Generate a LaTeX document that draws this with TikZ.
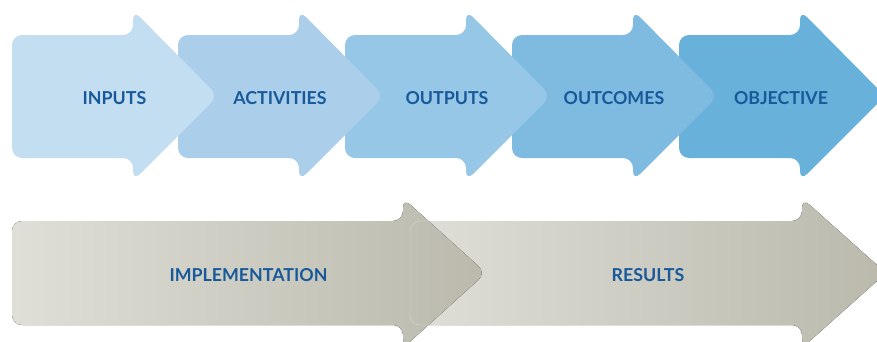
\documentclass[tikz,border=0pt]{standalone}
\usepackage{fontspec}
\setmainfont{Lato}
\definecolor{cA}{HTML}{C4DEF1}
\definecolor{cB}{HTML}{ABCFEA}
\definecolor{cC}{HTML}{96C7E7}
\definecolor{cD}{HTML}{7FBBE1}
\definecolor{cE}{HTML}{68B1DA}
\definecolor{gL}{HTML}{DFDFD8}
\definecolor{gR}{HTML}{BAB9AC}
\definecolor{txtblue}{HTML}{17599A}
\tikzset{
  lbl/.style={font=\bfseries\fontsize{17.8}{20}\selectfont, text=txtblue, inner sep=0pt, anchor=center},
  arrowshape/.style={rounded corners=10pt},
}
\begin{document}
\begin{tikzpicture}[x=1pt,y=-1pt]
\useasboundingbox (0,0) rectangle (877,341);
\clip (0,0) rectangle (877,341);
% top row (drawn right to left so each head lies over the next body)
\foreach \x/\c in {679/cE, 512/cD, 345/cC, 178/cB, 12/cA} {
  \fill[\c, arrowshape] (\x,35) -- (\x+121,35) -- (\x+121,10) -- (\x+206,96) -- (\x+121,181) -- (\x+121,158) -- (\x,158) -- cycle;
}
% bottom row
\fill[left color=gL, right color=gR, arrowshape] (410,221) -- (802,221) -- (802,198) -- (886,273) -- (802,348) -- (802,325) -- (410,325) -- cycle;
\fill[left color=gL, right color=gR, arrowshape] (12,221) -- (403,221) -- (403,198) -- (486,273) -- (403,348) -- (403,325) -- (12,325) -- cycle;
\draw[white, opacity=0.3, line width=0.5pt, rounded corners=10pt] (440,221) -- (410,221) -- (410,325) -- (440,325);
% labels
\node[lbl] (inputs) at (114.5,98) {INPUTS};
\node[lbl] (activities) at (280,98) {ACTIVITIES};
\node[lbl] (outputs) at (447,98) {OUTPUTS};
\node[lbl] (outcomes) at (614,98) {OUTCOMES};
\node[lbl] (objective) at (781,98) {OBJECTIVE};
\node[lbl] (implementation) at (248.5,275) {IMPLEMENTATION};
\node[lbl] (results) at (648,275) {RESULTS};
\end{tikzpicture}
\end{document}
